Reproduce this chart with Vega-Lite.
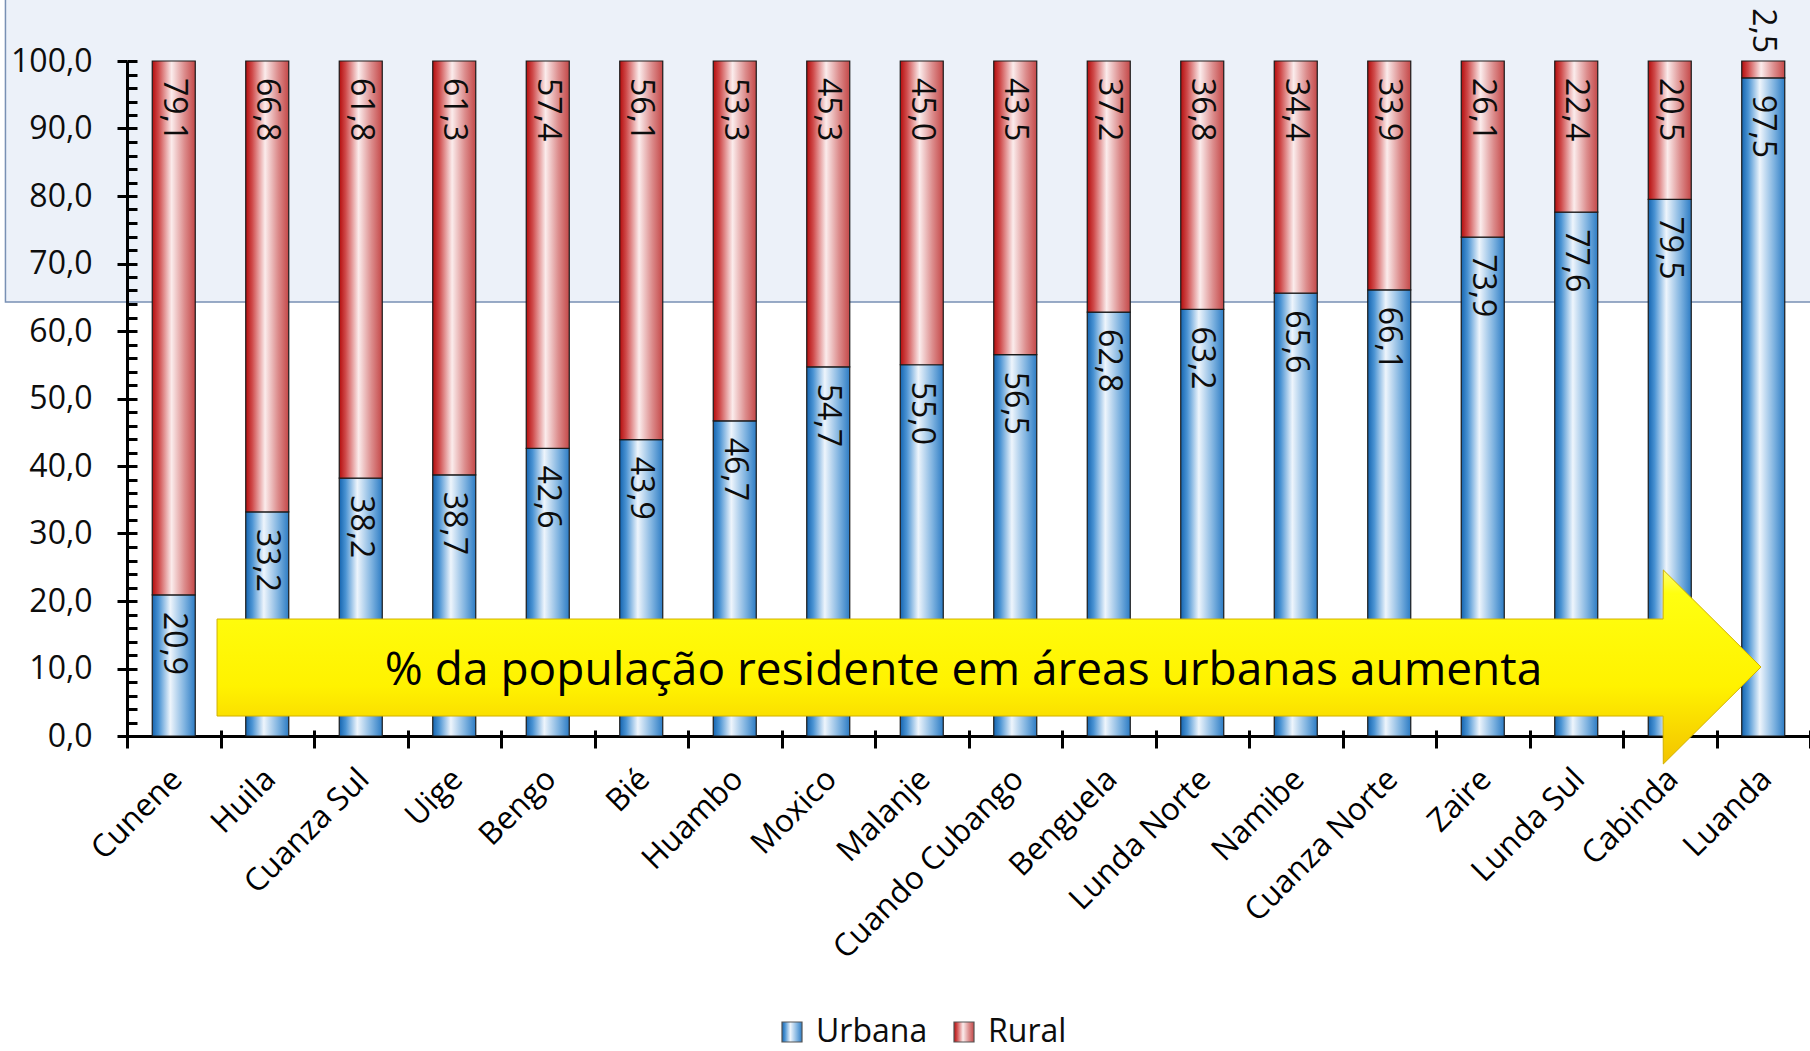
{
  "$schema": "https://vega.github.io/schema/vega-lite/v6.json",
  "autosize": "none",
  "width": 1683,
  "height": 675,
  "padding": {"left": 127, "top": 61, "right": 0, "bottom": 315},
  "background": "white",
  "config": {
    "view": {"stroke": null},
    "font": "Open Sans",
    "locale": {"number": {"decimal": ",", "thousands": ".", "grouping": [3], "currency": ["", " €"]}}
  },
  "datasets": {
    "main": [
      {"region": "Cunene", "series": "Urbana", "value": 20.9}, {"region": "Cunene", "series": "Rural", "value": 79.1},
      {"region": "Huila", "series": "Urbana", "value": 33.2}, {"region": "Huila", "series": "Rural", "value": 66.8},
      {"region": "Cuanza Sul", "series": "Urbana", "value": 38.2}, {"region": "Cuanza Sul", "series": "Rural", "value": 61.8},
      {"region": "Uige", "series": "Urbana", "value": 38.7}, {"region": "Uige", "series": "Rural", "value": 61.3},
      {"region": "Bengo", "series": "Urbana", "value": 42.6}, {"region": "Bengo", "series": "Rural", "value": 57.4},
      {"region": "Bié", "series": "Urbana", "value": 43.9}, {"region": "Bié", "series": "Rural", "value": 56.1},
      {"region": "Huambo", "series": "Urbana", "value": 46.7}, {"region": "Huambo", "series": "Rural", "value": 53.3},
      {"region": "Moxico", "series": "Urbana", "value": 54.7}, {"region": "Moxico", "series": "Rural", "value": 45.3},
      {"region": "Malanje", "series": "Urbana", "value": 55.0}, {"region": "Malanje", "series": "Rural", "value": 45.0},
      {"region": "Cuando Cubango", "series": "Urbana", "value": 56.5}, {"region": "Cuando Cubango", "series": "Rural", "value": 43.5},
      {"region": "Benguela", "series": "Urbana", "value": 62.8}, {"region": "Benguela", "series": "Rural", "value": 37.2},
      {"region": "Lunda Norte", "series": "Urbana", "value": 63.2}, {"region": "Lunda Norte", "series": "Rural", "value": 36.8},
      {"region": "Namibe", "series": "Urbana", "value": 65.6}, {"region": "Namibe", "series": "Rural", "value": 34.4},
      {"region": "Cuanza Norte", "series": "Urbana", "value": 66.1}, {"region": "Cuanza Norte", "series": "Rural", "value": 33.9},
      {"region": "Zaire", "series": "Urbana", "value": 73.9}, {"region": "Zaire", "series": "Rural", "value": 26.1},
      {"region": "Lunda Sul", "series": "Urbana", "value": 77.6}, {"region": "Lunda Sul", "series": "Rural", "value": 22.4},
      {"region": "Cabinda", "series": "Urbana", "value": 79.5}, {"region": "Cabinda", "series": "Rural", "value": 20.5},
      {"region": "Luanda", "series": "Urbana", "value": 97.5}, {"region": "Luanda", "series": "Rural", "value": 2.5}
    ],
    "band": [{"x0": -1.8, "x1": 18.3, "y0": 64.3, "y1": 109.2}],
    "arrow": [
      {"x": 0.463, "top": 17.33, "bottom": 2.96},
      {"x": 15.929, "top": 17.33, "bottom": 2.96},
      {"x": 15.931, "top": 24.6, "bottom": -4.15},
      {"x": 16.976, "top": 10.22, "bottom": 10.22}
    ],
    "note": [{"x": 8.447, "y": 7.6, "label": "% da população residente em áreas urbanas aumenta"}]
  },
  "resolve": {"scale": {"x": "independent"}, "axis": {"x": "independent", "y": "independent"}},
  "layer": [
    {
      "data": {"name": "band"},
      "mark": {"type": "rect", "fill": "#ECF1F9", "stroke": "#7890B4", "strokeWidth": 1.5},
      "encoding": {
        "x": {"field": "x0", "type": "quantitative", "scale": {"domain": [-0.5, 17.5], "nice": false, "zero": false}, "axis": null},
        "x2": {"field": "x1"},
        "y": {"field": "y0", "type": "quantitative", "scale": {"domain": [0, 100], "nice": false}, "axis": null},
        "y2": {"field": "y1"}
      }
    },
    {
      "data": {"name": "main"},
      "mark": {"type": "text", "text": ""},
      "encoding": {
        "x": {
          "field": "region", "type": "nominal", "sort": null,
          "scale": {"type": "band", "paddingInner": 0, "paddingOuter": 0},
          "axis": {
            "title": null, "labels": false, "domain": false, "tickSize": -6, "tickWidth": 3, "tickColor": "#000000",
            "tickBand": "extent", "orient": "bottom", "zindex": 0
          }
        }
      }
    },
    {
      "data": {"name": "main"},
      "mark": {"type": "text", "text": ""},
      "encoding": {
        "x": {
          "field": "region", "type": "nominal", "sort": null,
          "scale": {"type": "band", "paddingInner": 0, "paddingOuter": 0},
          "axis": {
            "title": null, "labelAngle": -45, "labelFont": "Open Sans", "labelFontSize": 31.5, "labelColor": "#000000",
            "tickSize": 12, "tickWidth": 3, "tickColor": "#000000", "domainWidth": 3, "domainColor": "#000000",
            "tickBand": "extent", "labelPadding": 15, "labelOffset": -8, "zindex": 0, "orient": "bottom", "labelLimit": 400
          }
        }
      }
    },
    {
      "data": {"name": "main"},
      "transform": [{"stack": "value", "groupby": ["region"], "sort": [{"field": "series", "order": "descending"}], "as": ["v0", "v1"]}],
      "mark": {"type": "bar", "stroke": "#1a1a1a", "strokeWidth": 1.2},
      "encoding": {
        "x": {
          "field": "region", "type": "nominal", "sort": null,
          "scale": {"paddingInner": 0.54, "paddingOuter": 0.27},
          "axis": null
        },
        "y": {
          "field": "v1", "type": "quantitative", "scale": {"domain": [0, 100], "nice": false},
          "axis": {
            "orient": "left", "title": null, "values": [0, 10, 20, 30, 40, 50, 60, 70, 80, 90, 100], "format": ".1f",
            "labelFont": "Open Sans", "labelFontSize": 32, "labelColor": "#0d0d0d", "tickSize": 10, "tickWidth": 3,
            "tickColor": "#000000", "domainWidth": 3, "domainColor": "#000000", "labelPadding": 25, "grid": false, "zindex": 1
          }
        },
        "y2": {"field": "v0"},
        "fill": {
          "field": "series", "type": "nominal",
          "scale": {
            "domain": ["Urbana", "Rural"],
            "range": [
              {"expr": "{gradient: 'linear', x1: 0, y1: 0, x2: 1, y2: 0, stops: [{offset: 0, color: '#1565b0'}, {offset: 0.15, color: '#4a93d3'}, {offset: 0.42, color: '#eef5fc'}, {offset: 0.75, color: '#7fb3e0'}, {offset: 1, color: '#2d7cc4'}]}"},
              {"expr": "{gradient: 'linear', x1: 0, y1: 0, x2: 1, y2: 0, stops: [{offset: 0, color: '#b50d0d'}, {offset: 0.15, color: '#cf4a4a'}, {offset: 0.45, color: '#fbecec'}, {offset: 0.75, color: '#dc8c8c'}, {offset: 1, color: '#c44848'}]}"}
            ]
          },
          "legend": {
            "orient": "none", "legendX": 649, "legendY": 955, "direction": "horizontal", "title": null,
            "symbolType": "square", "symbolSize": 400, "symbolStrokeColor": "#555555", "symbolStrokeWidth": 1.2,
            "symbolOpacity": 1, "labelFont": "Open Sans", "labelFontSize": 32, "labelColor": "#0d0d0d",
            "labelOffset": 8, "columnPadding": 20, "labelLimit": 300
          }
        }
      }
    },
    {
      "data": {"name": "main"},
      "transform": [
        {"stack": "value", "groupby": ["region"], "sort": [{"field": "series", "order": "descending"}], "as": ["v0", "v1"]},
        {"filter": "!(datum.series == 'Rural' && datum.value < 5)"}
      ],
      "mark": {"type": "text", "font": "Open Sans", "fontSize": 32, "angle": 90, "align": "left", "baseline": "middle", "dx": 17, "color": "#0d0d0d"},
      "encoding": {
        "x": {"field": "region", "type": "nominal", "sort": null, "scale": {"type": "point", "padding": 0.5}, "axis": null},
        "y": {
          "field": "v1", "type": "quantitative", "scale": {"domain": [0, 100], "nice": false},
          "axis": {
            "orient": "left", "title": null, "labels": false, "domain": false, "grid": false, "zindex": 1,
            "values": [0, 2, 4, 6, 8, 10, 12, 14, 16, 18, 20, 22, 24, 26, 28, 30, 32, 34, 36, 38, 40, 42, 44, 46, 48, 50, 52, 54, 56, 58, 60, 62, 64, 66, 68, 70, 72, 74, 76, 78, 80, 82, 84, 86, 88, 90, 92, 94, 96, 98, 100],
            "tickSize": -10, "tickWidth": 3, "tickColor": "#000000"
          }
        },
        "text": {"field": "value", "type": "quantitative", "format": ".1f"}
      }
    },
    {
      "data": {"name": "main"},
      "transform": [
        {"stack": "value", "groupby": ["region"], "sort": [{"field": "series", "order": "descending"}], "as": ["v0", "v1"]},
        {"filter": "datum.series == 'Rural' && datum.value < 5"}
      ],
      "mark": {"type": "text", "font": "Open Sans", "fontSize": 32, "angle": 90, "align": "right", "baseline": "middle", "dx": -8, "color": "#0d0d0d"},
      "encoding": {
        "x": {"field": "region", "type": "nominal", "sort": null, "scale": {"type": "point", "padding": 0.5, "domain": ["Cunene", "Huila", "Cuanza Sul", "Uige", "Bengo", "Bié", "Huambo", "Moxico", "Malanje", "Cuando Cubango", "Benguela", "Lunda Norte", "Namibe", "Cuanza Norte", "Zaire", "Lunda Sul", "Cabinda", "Luanda"]}, "axis": null},
        "y": {"field": "v1", "type": "quantitative", "scale": {"domain": [0, 100], "nice": false}, "axis": null},
        "text": {"field": "value", "type": "quantitative", "format": ".1f"}
      }
    },
    {
      "data": {"name": "arrow"},
      "mark": {
        "type": "area", "interpolate": "linear", "stroke": "#d1b000", "strokeWidth": 1,
        "fill": {"gradient": "linear", "x1": 0, "y1": 0, "x2": 0, "y2": 1, "stops": [
          {"offset": 0, "color": "#ffff70"}, {"offset": 0.12, "color": "#ffff10"}, {"offset": 0.6, "color": "#fff200"}, {"offset": 1, "color": "#f3c300"}
        ]}
      },
      "encoding": {
        "x": {"field": "x", "type": "quantitative", "scale": {"domain": [-0.5, 17.5], "nice": false, "zero": false}, "axis": null},
        "y": {"field": "top", "type": "quantitative", "scale": {"domain": [0, 100], "nice": false}, "axis": null},
        "y2": {"field": "bottom"}
      }
    },
    {
      "data": {"name": "note"},
      "mark": {"type": "text", "font": "Open Sans", "fontSize": 46, "align": "center", "baseline": "alphabetic", "color": "#000000"},
      "encoding": {
        "x": {"field": "x", "type": "quantitative", "scale": {"domain": [-0.5, 17.5], "nice": false, "zero": false}, "axis": null},
        "y": {"field": "y", "type": "quantitative", "scale": {"domain": [0, 100], "nice": false}, "axis": null},
        "text": {"field": "label"}
      }
    }
  ]
}
